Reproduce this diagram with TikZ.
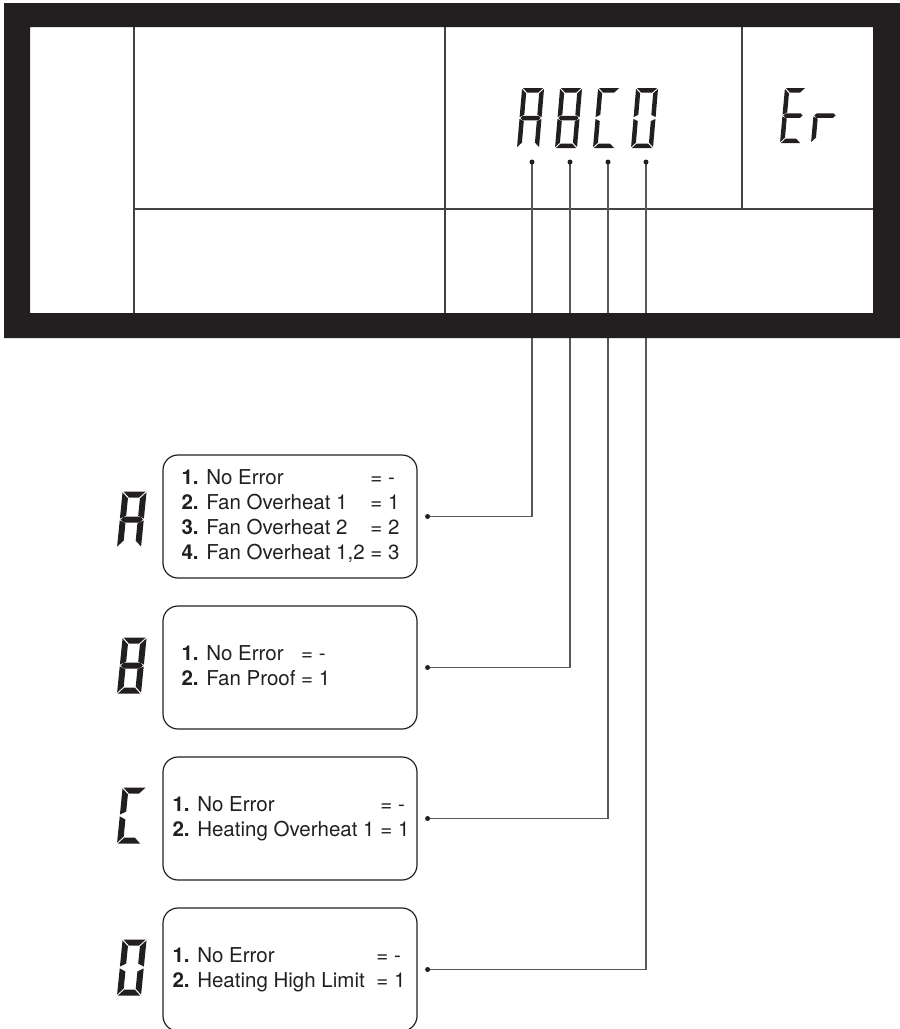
\documentclass[tikz,border=0pt]{standalone}
\usepackage{fontspec}
\setmainfont{TeX Gyre Heros}
\usepackage{xcolor}
\usepackage{tikz}
\definecolor{lcdblack}{HTML}{231F20}
\tikzset{
  lcdframe/.style={fill=lcdblack, even odd rule},
  lcdline/.style={line width=1.3pt, draw=lcdblack!85},
  lcdseg/.style={fill=lcdblack},
  lcdwire/.style={line width=1.2pt, draw=lcdblack!75},
  wiredot/.style={fill=lcdblack},
  errbox/.style={draw=lcdblack, line width=1.2pt, rounded corners=15pt, minimum width=254pt, minimum height=123pt, inner sep=0pt},
  errtext/.style={anchor=west, inner sep=0pt, text=lcdblack, font=\fontsize{20.5}{25}\selectfont},
}
% seven segment parts, drawn with \W, \H, \T, \G
\newcommand\lcdsega{\fill[lcdseg] (\G,\H) -- (\W-\G,\H) -- (\W-\T-\G,\H-\T) -- (\T+\G,\H-\T) -- cycle;}
\newcommand\lcdsegd{\fill[lcdseg] (\G,0) -- (\W-\G,0) -- (\W-\T-\G,\T) -- (\T+\G,\T) -- cycle;}
\newcommand\lcdsegf{\fill[lcdseg] (0,\H-\G) -- (\T,\H-\T-\G) -- (\T,\H/2+\T/2+\G) -- (0,\H/2+\G) -- cycle;}
\newcommand\lcdsege{\fill[lcdseg] (0,\G) -- (\T,\T+\G) -- (\T,\H/2-\T/2-\G) -- (0,\H/2-\G) -- cycle;}
\newcommand\lcdsegb{\fill[lcdseg] (\W,\H-\G) -- (\W-\T,\H-\T-\G) -- (\W-\T,\H/2+\T/2+\G) -- (\W,\H/2+\G) -- cycle;}
\newcommand\lcdsegc{\fill[lcdseg] (\W,\G) -- (\W-\T,\T+\G) -- (\W-\T,\H/2-\T/2-\G) -- (\W,\H/2-\G) -- cycle;}
\newcommand\lcdsegg{\fill[lcdseg] (\G,\H/2) -- (\T/2+\G,\H/2+\T/2) -- (\W-\T/2-\G,\H/2+\T/2) -- (\W-\G,\H/2) -- (\W-\T/2-\G,\H/2-\T/2) -- (\T/2+\G,\H/2-\T/2) -- cycle;}
% x, y (bottom left), width, height, thickness, slant, segments
\newcommand\lcdletter[7]{%
  \begin{scope}[shift={(#1,#2)}, xslant=#6, yscale=-1]
    \def\W{#3}\def\H{#4}\def\T{#5}\def\G{0.9}
    \foreach \s in {#7}{\csname lcdseg\s\endcsname}
  \end{scope}}

\begin{document}
\begin{tikzpicture}[x=1pt, y=-1pt]
\useasboundingbox (0,0) rectangle (900,1029);
% display fields
\draw[lcdline] (134,27) -- (134,313);
\draw[lcdline] (445,27) -- (445,313);
\draw[lcdline] (742,27) -- (742,209);
\draw[lcdline] (134,209) -- (873,209);
\lcdletter{517}{148}{22}{60}{4.5}{0.085}{a,b,c,e,f,g}
\lcdletter{555}{148}{22}{60}{4.5}{0.085}{a,b,c,d,e,f,g}
\lcdletter{593}{148}{22}{60}{4.5}{0.085}{a,d,e,f}
\lcdletter{631}{148}{22}{60}{4.5}{0.085}{a,b,c,d,e,f}
\lcdletter{780}{143}{21}{55}{4.5}{0.09}{a,d,e,f,g}
\lcdletter{811}{143}{23}{55}{4.5}{0.09}{e,g}

% error boxes
\node[errbox] (boxA) at (290,516.5) {};
\node[errbox] (boxB) at (290,667.5) {};
\node[errbox] (boxC) at (290,818.5) {};
\node[errbox] (boxD) at (290,969.5) {};
\node[errtext] (txtA) at ([xshift=19pt]boxA.west) {\begin{tabular}{@{}l@{\ }l@{}}
  \textbf{1.} No Error & = -\\
  \textbf{2.} Fan Overheat 1 & = 1\\
  \textbf{3.} Fan Overheat 2 & = 2\\
  \textbf{4.} Fan Overheat 1,2 & = 3\end{tabular}};
\node[errtext] (txtB) at ([xshift=19pt]boxB.west) {\begin{tabular}{@{}l@{\ }l@{}}
  \textbf{1.} No Error & = -\\
  \textbf{2.} Fan Proof & = 1\end{tabular}};
\node[errtext] (txtC) at ([xshift=10pt]boxC.west) {\begin{tabular}{@{}l@{\ }l@{}}
  \textbf{1.} No Error & = -\\
  \textbf{2.} Heating Overheat 1 & = 1\end{tabular}};
\node[errtext] (txtD) at ([xshift=10pt]boxD.west) {\begin{tabular}{@{}l@{\ }l@{}}
  \textbf{1.} No Error & = -\\
  \textbf{2.} Heating High Limit\hspace{6pt} & = 1\end{tabular}};
\lcdletter{117}{547.5}{24}{56}{6}{0.1}{a,b,c,e,f,g}
\lcdletter{117}{693.5}{24}{56}{6}{0.1}{a,b,c,d,e,f,g}
\lcdletter{117}{843.5}{24}{56}{6}{0.1}{a,d,e,f}
\lcdletter{117}{995.5}{24}{56}{6}{0.1}{a,b,c,d,e,f}

% wires
\coordinate (pA) at (532,162);
\coordinate (pB) at (570,162);
\coordinate (pC) at (608,162);
\coordinate (pD) at (646,162);
\coordinate (qA) at ([xshift=10pt]boxA.east);
\coordinate (qB) at ([xshift=10pt]boxB.east);
\coordinate (qC) at ([xshift=10pt]boxC.east);
\coordinate (qD) at ([xshift=10pt]boxD.east);
\draw[lcdwire] (pA) |- (qA);
\draw[lcdwire] (pB) |- (qB);
\draw[lcdwire] (pC) |- (qC);
\draw[lcdwire] (pD) |- (qD);
\fill[wiredot] (pA) circle (2.5pt) (pB) circle (2.5pt) (pC) circle (2.5pt) (pD) circle (2.5pt);
\fill[wiredot] (qA) circle (2.5pt) (qB) circle (2.5pt) (qC) circle (2.5pt) (qD) circle (2.5pt);

% frame
\fill[lcdframe] (4,3) rectangle (900,338) (30,27) rectangle (873,313);
\end{tikzpicture}
\end{document}
